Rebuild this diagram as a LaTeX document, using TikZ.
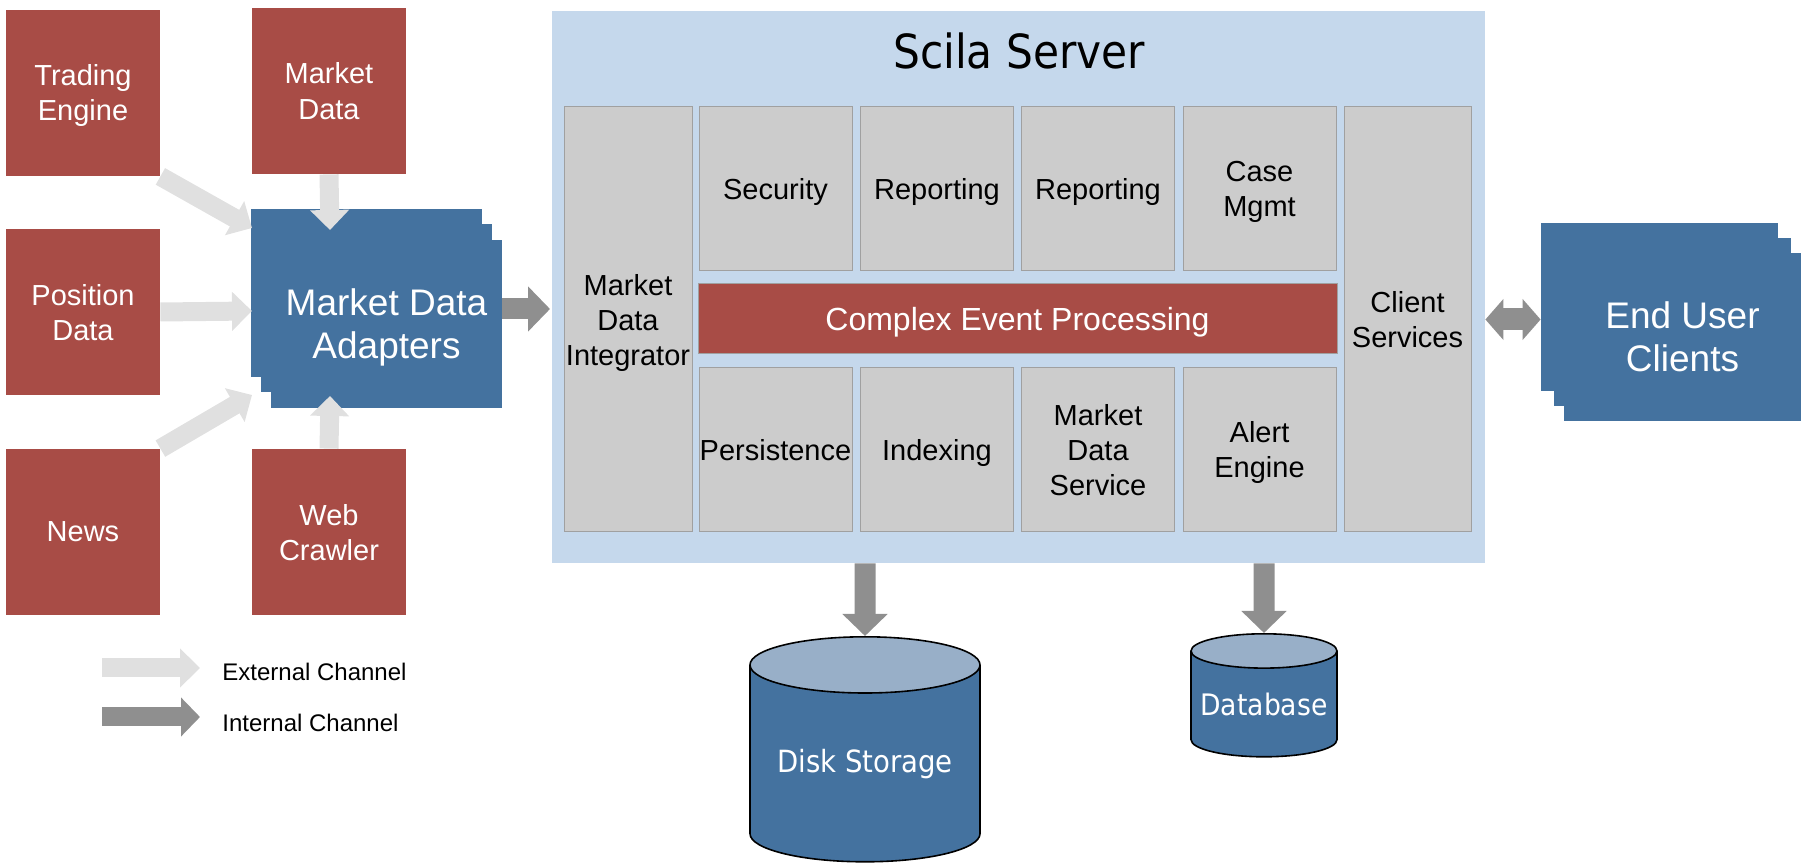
\documentclass[tikz,border=0pt]{standalone}
\usepackage{fontspec}
\setmainfont{Liberation Sans}
\newfontfamily\tahoma[FakeStretch=0.9]{DejaVu Sans}
\usetikzlibrary{arrows.meta,shapes.geometric}
\definecolor{srcred}{HTML}{A84C46}
\definecolor{appblue}{HTML}{44729F}
\definecolor{srvbg}{HTML}{C5D8EC}
\definecolor{modgray}{HTML}{CCCCCC}
\definecolor{modedge}{HTML}{A0A0A0}
\definecolor{extgray}{HTML}{E0E0E0}
\definecolor{intgray}{HTML}{8F8F8F}
\definecolor{disktop}{HTML}{98AFC8}

\tikzset{
  srcbox/.style={fill=srcred, text=white, minimum width=77pt, minimum height=83pt,
    inner sep=0pt, text depth=0pt, align=center, font=\fontsize{14.5}{17.5}\selectfont},
  sheet/.style={fill=appblue, text=white, minimum height=84pt, inner sep=0pt, text depth=0pt,
    align=center, font=\fontsize{18.5}{21.5}\selectfont},
  module/.style={fill=modgray, draw=modedge, line width=0.5pt, minimum width=76.5pt,
    minimum height=82pt, inner sep=0pt, text depth=0pt, align=center,
    font=\fontsize{14.5}{17.5}\selectfont},
  store/.style={cylinder, shape border rotate=90, draw=black, line width=0.8pt,
    cylinder uses custom fill, cylinder body fill=appblue, cylinder end fill=disktop,
    text=white, inner sep=0pt, anchor=north},
  extarrow/.style={draw=extgray, line width=9.5pt, -{Triangle[length=10pt,width=19pt]}},
  intarrow/.style={draw=intgray, line width=10.5pt, -{Triangle[length=11pt,width=22pt]}},
  legend/.style={anchor=west, inner sep=0pt, font=\fontsize{12}{14}\selectfont}
}

\begin{document}
\begin{tikzpicture}[x=0.5pt, y=-0.5pt]
  \useasboundingbox (0,0) rectangle (1806,865);

  % sources
  \node[srcbox] (te) at (83,93) {Trading\\Engine};
  \node[srcbox] (md) at (329,91) {Market\\Data};
  \node[srcbox] (pd) at (83,312) {Position\\Data};
  \node[srcbox] (news) at (83,532) {News};
  \node[srcbox] (wc) at (329,532) {Web\\Crawler};

  % adapters
  \node[sheet, minimum width=115.5pt] (mdaa) at (366.5,293) {};
  \node[sheet, minimum width=115.5pt] (mdab) at (376.5,308.5) {};
  \node[sheet, minimum width=115.5pt] (mda) at (386.5,324) {Market Data\\Adapters};

  % server
  \node[fill=srvbg, minimum width=466.5pt, minimum height=276pt] (srv) at (1018.5,287) {};
  \node[font=\tahoma\fontsize{23.5}{26}\selectfont] (srvtitle) at (1019,51) {Scila Server};

  \node[module, minimum width=64pt, minimum height=212.5pt] (mdi) at (628,319.5) {Market\\Data\\Integrator};
  \node[module] (sec) at (775.5,189) {Security};
  \node[module] (rep) at (937,189) {Reporting};
  \node[module] (repb) at (1098,189) {Reporting};
  \node[module] (case) at (1259.5,189) {Case\\Mgmt};
  \node[module, fill=srcred, text=white, minimum width=319.5pt, minimum height=35pt,
    font=\fontsize{16}{19}\selectfont] (cep) at (1017.5,319) {Complex Event Processing};
  \node[module] (pers) at (775.5,449.5) {Persistence};
  \node[module] (idx) at (937,449.5) {Indexing};
  \node[module] (mds) at (1098,449.5) {Market\\Data\\Service};
  \node[module] (alert) at (1259.5,449.5) {Alert\\Engine};
  \node[module, minimum width=63.5pt, minimum height=212.5pt] (cs) at (1407.5,319.5) {Client\\Services};

  % clients
  \node[sheet, minimum width=118.5pt] (euca) at (1659.5,307) {};
  \node[sheet, minimum width=118.5pt] (eucb) at (1672.5,322) {};
  \node[sheet, minimum width=118.5pt] (euc) at (1682.5,337) {End User\\Clients};

  % storage
  \node[store, minimum width=115pt, minimum height=112.5pt, shape aspect=0.32,
    font=\tahoma\fontsize{15.3}{18}\selectfont] (disk) at (865,636) {Disk Storage};
  \node[store, minimum width=73pt, minimum height=61.5pt, shape aspect=0.27,
    font=\tahoma\fontsize{14.8}{18}\selectfont] (db) at (1264,633) {Database};

  % channels
  \coordinate (tein) at (252,228);
  \coordinate (mdin) at (330,230);
  \coordinate (pdin) at (252,311);
  \coordinate (newsin) at (252,395);
  \coordinate (wcin) at (330,396);
  \coordinate (srvin) at (550,309);
  \draw[extarrow] (te.south east) -- (tein);
  \draw[extarrow] (md.south) -- (mdin);
  \draw[extarrow] (pd.east) -- (pdin);
  \draw[extarrow] (news.north east) -- (newsin);
  \draw[extarrow] (wc.north) -- (wcin);
  \draw[intarrow] (srvin -| mda.east) -- (srvin);
  \draw[intarrow, line width=11pt, {Triangle[length=9pt,width=20pt]}-{Triangle[length=9pt,width=20pt]}]
    (cs -| srv.east) -- (cs -| euca.west);
  \draw[intarrow] (srv.south -| disk) -- (disk.north);
  \draw[intarrow] (srv.south -| db) -- (db.north);

  % legend
  \node[legend] (lgext) at (222,672) {External Channel};
  \node[legend] (lgint) at (222,723) {Internal Channel};
  \coordinate (lgexta) at (102,668);
  \coordinate (lginta) at (102,717);
  \draw[extarrow] (lgexta) -- (lgexta -| 200,0);
  \draw[intarrow, line width=9.5pt, -{Triangle[length=9.5pt,width=19pt]}] (lginta) -- (lginta -| 200,0);
\end{tikzpicture}
\end{document}
